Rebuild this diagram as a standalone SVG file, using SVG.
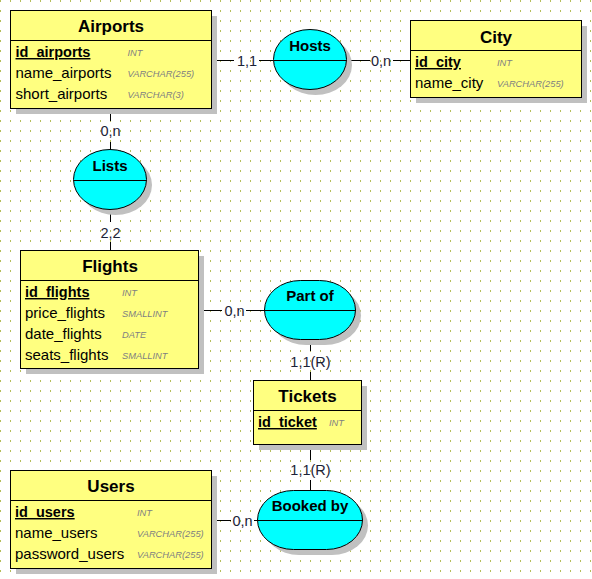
<svg xmlns="http://www.w3.org/2000/svg" width="592" height="579" viewBox="0 0 592 579">
<defs>
<pattern id="grid" patternUnits="userSpaceOnUse" x="0" y="0" width="10" height="10">
<rect x="0" y="0" width="1" height="2" fill="#b4be5a"/>
</pattern>
<style>
.ent{fill:#ffff80;stroke:#000;stroke-width:1}
.sh{fill:#c0c0c0}
.asc{fill:#00ffff;stroke:#000;stroke-width:1}
.sep{stroke:#000;stroke-width:1}
.title{font-family:"Liberation Sans",Arial,sans-serif;font-weight:bold;font-size:17px;fill:#000;text-anchor:middle}
.atitle{font-family:"Liberation Sans",Arial,sans-serif;font-weight:bold;font-size:15px;fill:#000;text-anchor:middle}
.attr{font-family:"Liberation Sans",Arial,sans-serif;font-size:15px;fill:#000}
.pk{font-family:"Liberation Sans",Arial,sans-serif;font-size:14.5px;font-weight:bold;fill:#000;text-decoration:underline}
.type{font-family:"Liberation Sans",Arial,sans-serif;font-size:9.3px;font-style:italic;fill:#808080}
.lbl{font-family:"Liberation Sans",Arial,sans-serif;font-size:14.5px;fill:#1c2238;text-anchor:middle}
.con{stroke:#000;stroke-width:1;fill:none}
</style>
</defs>
<rect x="0" y="0" width="592" height="579" fill="#ffffff"/>
<rect x="0" y="0" width="592" height="579" fill="url(#grid)"/>

<g id="connectors">
<path class="con" d="M211 60.5H234M259 60.5H273"/>
<text class="lbl" x="247" y="65.5">1,1</text>
<path class="con" d="M347 60.5H370M393 60.5H411"/>
<text class="lbl" x="381" y="65.5">0,n</text>
<path class="con" d="M110.5 108V121M110.5 142V150"/>
<text class="lbl" x="110.5" y="136">0,n</text>
<path class="con" d="M110.5 209V222M110.5 242V251"/>
<text class="lbl" x="110.5" y="238">2,2</text>
<path class="con" d="M199 310.5H222M246 310.5H265"/>
<text class="lbl" x="234.5" y="315.5">0,n</text>
<path class="con" d="M310.5 340V351M310.5 372V381"/>
<text class="lbl" x="310.5" y="367">1,1(R)</text>
<path class="con" d="M310.5 445V460M310.5 480V491"/>
<text class="lbl" x="310.5" y="475">1,1(R)</text>
<path class="con" d="M212 520.5H231M254 520.5H258"/>
<text class="lbl" x="242.5" y="526">0,n</text>
</g>

<g id="airports">
<rect class="sh" x="16" y="16" width="201" height="98"/>
<rect class="ent" x="10.5" y="10.5" width="201" height="98"/>
<line class="sep" x1="10.5" y1="40.5" x2="211.5" y2="40.5"/>
<text class="title" x="111" y="32">Airports</text>
<text class="pk" x="15.5" y="57">id_airports</text>
<text class="type" x="127.5" y="56">INT</text>
<text class="attr" x="15.5" y="78">name_airports</text>
<text class="type" x="127.5" y="77">VARCHAR(255)</text>
<text class="attr" x="15.5" y="99">short_airports</text>
<text class="type" x="127.5" y="98">VARCHAR(3)</text>
</g>

<g id="city">
<rect class="sh" x="416" y="26" width="171" height="77"/>
<rect class="ent" x="410.5" y="20.5" width="171" height="77"/>
<line class="sep" x1="410.5" y1="50.5" x2="581.5" y2="50.5"/>
<text class="title" x="496" y="42.5">City</text>
<text class="pk" x="415" y="67">id_city</text>
<text class="type" x="497" y="66">INT</text>
<text class="attr" x="415" y="88">name_city</text>
<text class="type" x="497" y="87">VARCHAR(255)</text>
</g>

<g id="hosts">
<rect class="sh" x="279" y="35" width="73" height="60" rx="36.5" ry="30"/>
<rect class="asc" x="273.5" y="29.5" width="73" height="60" rx="36.5" ry="30"/>
<line class="sep" x1="273.5" y1="60.5" x2="346.5" y2="60.5"/>
<text class="atitle" x="310" y="50.5">Hosts</text>
</g>

<g id="lists">
<rect class="sh" x="79" y="155" width="73" height="60" rx="36.5" ry="30"/>
<rect class="asc" x="73.5" y="149.5" width="73" height="60" rx="36.5" ry="30"/>
<line class="sep" x1="73.5" y1="180.5" x2="146.5" y2="180.5"/>
<text class="atitle" x="110" y="170.5">Lists</text>
</g>

<g id="flights">
<rect class="sh" x="26" y="256" width="178" height="118"/>
<rect class="ent" x="20.5" y="250.5" width="178" height="118"/>
<line class="sep" x1="20.5" y1="280.5" x2="198.5" y2="280.5"/>
<text class="title" x="110" y="271.5">Flights</text>
<text class="pk" x="25" y="297">id_flights</text>
<text class="type" x="122" y="296">INT</text>
<text class="attr" x="25" y="318">price_flights</text>
<text class="type" x="122" y="317">SMALLINT</text>
<text class="attr" x="25" y="339">date_flights</text>
<text class="type" x="122" y="338">DATE</text>
<text class="attr" x="25" y="360">seats_flights</text>
<text class="type" x="122" y="359">SMALLINT</text>
</g>

<g id="partof">
<rect class="sh" x="270" y="286" width="91" height="59" rx="36" ry="29.5"/>
<rect class="asc" x="264.5" y="280.5" width="91" height="59" rx="36" ry="29.5"/>
<line class="sep" x1="264.5" y1="310.5" x2="355.5" y2="310.5"/>
<text class="atitle" x="310" y="300.5">Part of</text>
</g>

<g id="tickets">
<rect class="sh" x="259" y="386" width="108" height="64"/>
<rect class="ent" x="253.5" y="380.5" width="108" height="64"/>
<line class="sep" x1="253.5" y1="410.5" x2="361.5" y2="410.5"/>
<text class="title" x="307.5" y="402">Tickets</text>
<text class="pk" x="258" y="427">id_ticket</text>
<text class="type" x="329" y="426">INT</text>
</g>

<g id="bookedby">
<rect class="sh" x="263" y="496" width="105" height="59" rx="36" ry="29.5"/>
<rect class="asc" x="257.5" y="490.5" width="105" height="59" rx="36" ry="29.5"/>
<line class="sep" x1="257.5" y1="520.5" x2="362.5" y2="520.5"/>
<text class="atitle" x="310" y="511">Booked by</text>
</g>

<g id="users">
<rect class="sh" x="16" y="476" width="201" height="98"/>
<rect class="ent" x="10.5" y="470.5" width="201" height="98"/>
<line class="sep" x1="10.5" y1="500.5" x2="211.5" y2="500.5"/>
<text class="title" x="111" y="491.5">Users</text>
<text class="pk" x="15" y="517">id_users</text>
<text class="type" x="137" y="516">INT</text>
<text class="attr" x="15" y="538">name_users</text>
<text class="type" x="137" y="537">VARCHAR(255)</text>
<text class="attr" x="15" y="559">password_users</text>
<text class="type" x="137" y="558">VARCHAR(255)</text>
</g>
</svg>
